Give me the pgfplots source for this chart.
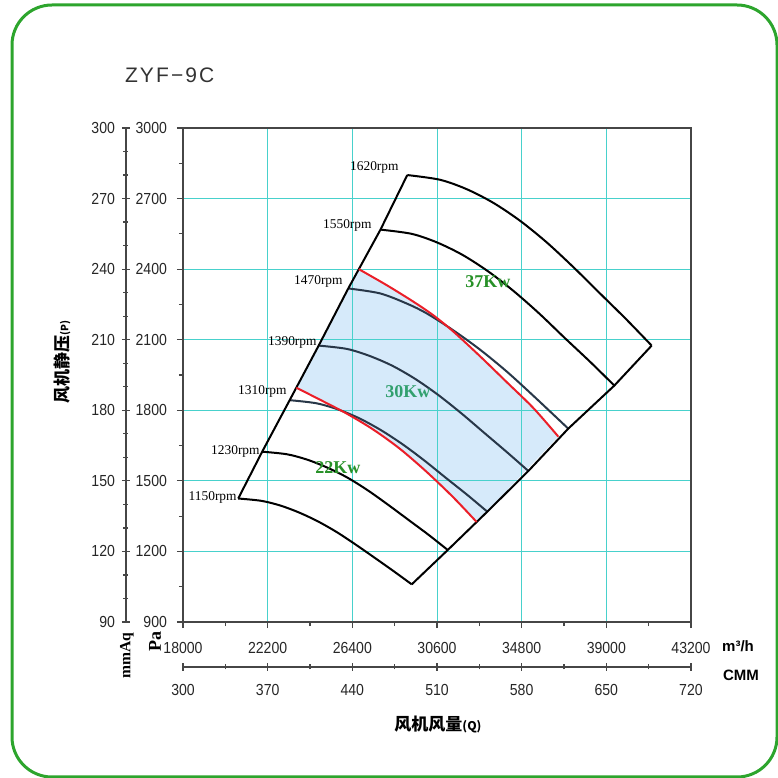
\documentclass[border=0pt]{standalone}
\usepackage{pgfplots}
\pgfplotsset{compat=1.18}
\usepackage{fontspec}
\setmainfont{Liberation Serif}
\newfontfamily\cjk{Noto Sans CJK SC}
\newfontfamily\narrowfont[FakeStretch=0.88]{Liberation Sans}
\newfontfamily\sansf{Liberation Sans}
\definecolor{gridc}{RGB}{72,209,204}
\definecolor{framec}{RGB}{45,165,45}
\definecolor{kwgreen}{RGB}{40,145,40}
\definecolor{kwteal}{RGB}{50,160,110}
\definecolor{slate}{RGB}{40,55,72}
\definecolor{redc}{RGB}{235,30,40}
\definecolor{shade}{RGB}{214,234,250}
\definecolor{axc}{RGB}{70,70,70}
\begin{document}
\begin{tikzpicture}[x=1pt,y=1pt]
\draw[framec, line width=1.5pt, rounded corners=20pt] (6pt,0.5pt) rectangle (388.5pt,386.5pt);
\node[anchor=west, text=black!80, font=\sansf\fontsize{10.5}{12}\selectfont\addfontfeature{LetterSpace=10}] at (59pt,351.5pt) {ZYF−9C};

% mmAq axis
\begin{axis}[
  at={(63pt,78pt)}, anchor=south west, scale only axis,
  width=10pt, height=247pt,
  xmin=0, xmax=1, ymin=90, ymax=300,
  hide x axis, axis y line*=left,
  axis line style={-, axc, line width=0.8pt},
  ytick={90,120,...,300}, minor y tick num=2,
  tick align=center, major tick length=4pt, minor tick length=2.5pt,
  tick style={axc, line width=0.6pt},
  ticklabel style={font=\narrowfont\fontsize{8}{9}\selectfont, text=black!85},
  /pgf/number format/assume math mode=true,
]
\addplot[draw=none] coordinates {(0,90)};
\end{axis}

% CMM axis
\begin{axis}[
  at={(91.5pt,55.5pt)}, anchor=south west, scale only axis,
  width=254pt, height=10pt,
  xmin=300, xmax=720, ymin=0, ymax=1,
  hide y axis, axis x line*=bottom,
  axis line style={-, axc, line width=0.8pt},
  xtick={300,370,...,720}, minor x tick num=1,
  tick align=center, major tick length=4pt, minor tick length=2.5pt,
  tick style={axc, line width=0.6pt},
  ticklabel style={font=\narrowfont\fontsize{8}{9}\selectfont, text=black!85},
  xticklabel style={yshift=-3pt},
  /pgf/number format/assume math mode=true,
]
\addplot[draw=none] coordinates {(300,0)};
\end{axis}

% main axis
\begin{axis}[
  at={(91.5pt,78pt)}, anchor=south west, scale only axis,
  width=254pt, height=247pt,
  set layers,
  xmin=18000, xmax=43200, ymin=900, ymax=3000,
  xtick={18000,22200,26400,30600,34800,39000,43200},
  ytick={900,1200,...,3000},
  scaled x ticks=false, scaled y ticks=false,
  minor x tick num=1, minor y tick num=1,
  xtick pos=left, ytick pos=left,
  grid=major, major grid style={gridc, line width=0.5pt},
  axis line style={axc, line width=0.8pt},
  tick style={axc, line width=0.6pt},
  tick align=outside, major tick length=3pt, minor tick length=2pt,
  ticklabel style={font=\narrowfont\fontsize{8}{9}\selectfont, text=black!85},
  /pgf/number format/assume math mode=true,
  /pgf/number format/1000 sep={},
  xticklabel style={yshift=-3.5pt, /pgf/number format/fixed},
  yticklabel style={xshift=-1.5pt},
]
% shaded operating band
\addplot[on layer=axis background, fill=shade, draw=none] coordinates {
  (23620,1896)(24795,1845)(26120,1786)(27439,1718)(28763,1636)(30088,1538)(31407,1430)(32568,1325)
  (36620,1688)(35375,1810)(34056,1920)(32731,2030)(31407,2135)(30415,2204)(29423,2262)(28104,2332)(26720,2400)
};

% rpm curves
\addplot[black, line width=1pt, smooth] coordinates {(29125,2800)(30747,2780)(32072,2740)(33391,2682)(34715,2606)(36040,2514)(37359,2409)(38683,2297)(40008,2185)(41248,2075)};
\addplot[black, line width=1pt, smooth] coordinates {(27797,2568)(29348,2550)(30616,2513)(31878,2460)(33145,2390)(34413,2306)(35675,2211)(36942,2107)(38209,2005)(39396,1905)};
\addplot[slate, line width=1pt, smooth] coordinates {(26199,2318)(27771,2297)(29095,2254)(30088,2212)(31407,2140)(32731,2058)(34056,1965)(35375,1862)(37111,1722)};
\addplot[slate, line width=1pt, smooth] coordinates {(24730,2075)(26122,2061)(27259,2031)(28390,1989)(29526,1933)(30663,1865)(31795,1788)(32931,1705)(34068,1622)(35132,1542)};
\addplot[slate, line width=1pt, smooth] coordinates {(23292,1843)(24603,1830)(25675,1804)(26741,1766)(27812,1716)(28884,1656)(29950,1588)(31021,1514)(32092,1441)(33095,1369)};
\addplot[black, line width=1pt, smooth] coordinates {(21928,1624)(23160,1613)(24166,1590)(25168,1556)(26173,1513)(27179,1459)(28180,1398)(29186,1334)(30191,1270)(31133,1206)};
\addplot[black, line width=1pt, smooth] coordinates {(20740,1425)(21892,1415)(22832,1395)(23769,1365)(24709,1327)(25649,1281)(26585,1228)(27525,1172)(28466,1115)(29346,1060)};

% boundaries
\addplot[black, line width=1pt] coordinates {(20740,1425)(21928,1624)(23292,1843)(24730,2075)(26199,2318)(27797,2568)(29125,2800)};
\addplot[black, line width=1pt] coordinates {(29346,1060)(31133,1206)(33095,1369)(35132,1542)(37111,1722)(39396,1905)(41248,2075)};

% red power curves
\addplot[redc, line width=1pt, smooth] coordinates {(23620,1896)(24795,1845)(26120,1786)(27439,1718)(28763,1636)(30088,1538)(31407,1430)(32568,1325)};
\addplot[redc, line width=1pt, smooth] coordinates {(26720,2400)(28104,2332)(29423,2262)(30415,2204)(31407,2135)(32731,2030)(34056,1920)(35375,1810)(36620,1688)};

% labels
\node[anchor=east, inner sep=0.5pt, font=\fontsize{6.7}{8}\selectfont] at (axis cs:28763,2834) {1620rpm};
\node[anchor=east, inner sep=0.5pt, font=\fontsize{6.7}{8}\selectfont] at (axis cs:27424,2587) {1550rpm};
\node[anchor=east, inner sep=0.5pt, font=\fontsize{6.7}{8}\selectfont] at (axis cs:25986,2349) {1470rpm};
\node[anchor=east, inner sep=0.5pt, font=\fontsize{6.7}{8}\selectfont] at (axis cs:24696,2089) {1390rpm};
\node[anchor=east, inner sep=0.5pt, font=\fontsize{6.7}{8}\selectfont] at (axis cs:23208,1881) {1310rpm};
\node[anchor=east, inner sep=0.5pt, font=\fontsize{6.7}{8}\selectfont] at (axis cs:21869,1626) {1230rpm};
\node[anchor=east, inner sep=0.5pt, font=\fontsize{6.7}{8}\selectfont] at (axis cs:20728,1430) {1150rpm};
\node[font=\bfseries\fontsize{9}{10}\selectfont, text=kwgreen] at (axis cs:33128,2349) {37Kw};
\node[font=\bfseries\fontsize{9}{10}\selectfont, text=kwteal] at (axis cs:29160,1881) {30Kw};
\node[font=\bfseries\fontsize{9}{10}\selectfont, text=kwgreen] at (axis cs:25688,1558) {22Kw};
\end{axis}

\node[rotate=90, font=\cjk\bfseries\fontsize{8.5}{10}\selectfont] at (31pt,208pt) {风机静压{\fontsize{5}{6}\selectfont(P)}};
\node[font=\cjk\bfseries\fontsize{8.5}{10}\selectfont] at (219pt,27pt) {风机风量{\fontsize{6}{7}\selectfont(Q)}};
\node[rotate=90, font=\bfseries\fontsize{7.8}{9}\selectfont] at (63.5pt,61pt) {mmAq};
\node[rotate=90, font=\bfseries\fontsize{9}{10}\selectfont] at (77.5pt,68pt) {Pa};
\node[font=\sansf\bfseries\fontsize{7.5}{9}\selectfont] at (369pt,66pt) {m³/h};
\node[font=\sansf\bfseries\fontsize{7.5}{9}\selectfont] at (370.5pt,51.5pt) {CMM};
\pgfresetboundingbox
\useasboundingbox (0pt,0pt) rectangle (389pt,389pt);
\end{tikzpicture}
\end{document}
